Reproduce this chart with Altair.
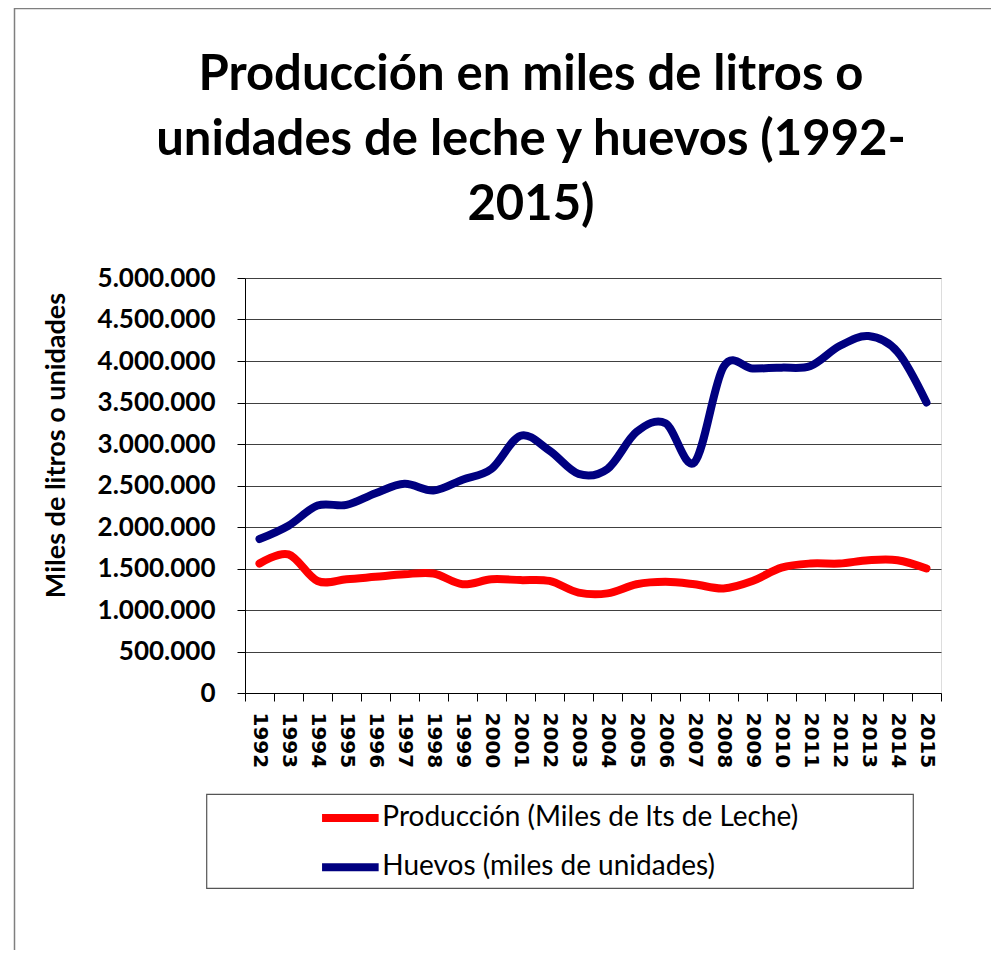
import altair as alt
import pandas as pd

# ---- data ----
years = [str(y) for y in range(1992, 2016)]
leche = [1560000, 1670000, 1350000, 1370000, 1400000, 1430000, 1440000, 1310000,
         1370000, 1360000, 1350000, 1210000, 1200000, 1310000, 1340000, 1310000,
         1260000, 1350000, 1510000, 1560000, 1560000, 1600000, 1600000, 1500000]
huevos = [1855000, 2016000, 2258000, 2266000, 2407000, 2520000, 2440000, 2570000,
          2700000, 3100000, 2920000, 2640000, 2700000, 3145000, 3250000, 2780000,
          3930000, 3910000, 3920000, 3940000, 4180000, 4300000, 4110000, 3500000]
series = ["Producción (Miles de lts de Leche)", "Huevos (miles de unidades)"]
colors = ["#FF0000", "#000080"]
y_ticks = [0, 500000, 1000000, 1500000, 2000000, 2500000, 3000000,
           3500000, 4000000, 4500000, 5000000]
title_lines = ["Producción en miles de litros o",
               "unidades de leche y huevos (1992-",
               "2015)"]

rows = []
for name, vals in zip(series, [leche, huevos]):
    for yr, v in zip(years, vals):
        rows.append({"year": yr, "value": v, "serie": name})
df = pd.DataFrame(rows)

W, H = 696, 415

lines = alt.Chart(df).mark_line(
    strokeWidth=8, interpolate="cardinal", strokeCap="round", strokeJoin="round"
).encode(
    x=alt.X("year:O", bandPosition=0.5,
            scale=alt.Scale(type="band", paddingInner=0, paddingOuter=0),
            axis=alt.Axis(title=None, labelAngle=90, labelAlign="left",
                          labelBaseline="middle", labelFont="DejaVu Sans",
                          labelFontSize=20, labelFontWeight="bold",
                          labelColor="black", labelPadding=11,
                          tickBand="extent", tickSize=8, tickColor="black",
                          domainColor="black", grid=False)),
    y=alt.Y("value:Q", scale=alt.Scale(domain=[0, 5000000], nice=False),
            axis=alt.Axis(values=y_ticks,
                          labelExpr="replace(format(datum.value, ',d'), regexp(',', 'g'), '.')",
                          labelFont="Lato", labelFontSize=26, labelFontWeight="bold",
                          labelColor="black", labelPadding=22, tickSize=8,
                          tickColor="black", domainColor="black",
                          gridColor="#404040", gridWidth=1,
                          title="Miles de litros o unidades", titleFont="Lato",
                          titleFontSize=27, titleFontWeight="bold", titleColor="black",
                          titleAngle=270, titleAlign="center", titleBaseline="middle",
                          titleX=-189, titleY=167)),
    color=alt.Color("serie:N",
                    scale=alt.Scale(domain=series, range=colors),
                    legend=alt.Legend(title=None, orient="none", legendX=86.85,
                                      legendY=521.5, symbolType="M-2,0H2",
                                      symbolSize=801, symbolStrokeWidth=8,
                                      labelFont="Lato", labelFontSize=28,
                                      labelColor="black", labelOffset=13.5,
                                      labelLimit=700, rowPadding=14.3, padding=0,
                                      direction="vertical")),
)

deco = alt.Chart(pd.DataFrame({"k": [0]}))
frame = deco.mark_rect(fillOpacity=0, stroke="#7f7f7f", strokeWidth=1.5).encode(
    x=alt.value(-230.5), x2=alt.value(800), y=alt.value(-269.5), y2=alt.value(700))
legend_box = deco.mark_rect(fillOpacity=0, stroke="#555555", strokeWidth=1.2).encode(
    x=alt.value(-38.3), x2=alt.value(668.3), y=alt.value(516.3), y2=alt.value(610.3))

chart = alt.layer(frame, legend_box, lines).properties(
    width=W, height=H,
    autosize=alt.AutoSizeParams(type="none"),
    padding={"left": 237, "top": 270, "right": 50, "bottom": 257},
    title=alt.TitleParams(text=title_lines, font="Lato", fontSize=49,
                          fontWeight="bold", color="black", lineHeight=65,
                          anchor="middle", frame="group", dx=-62, offset=-222),
).configure_view(fill="#C0C0C0", stroke="#808080", strokeWidth=2
).configure(background="white")

chart.save("out.html", embed_options={"renderer": "svg", "actions": False})
